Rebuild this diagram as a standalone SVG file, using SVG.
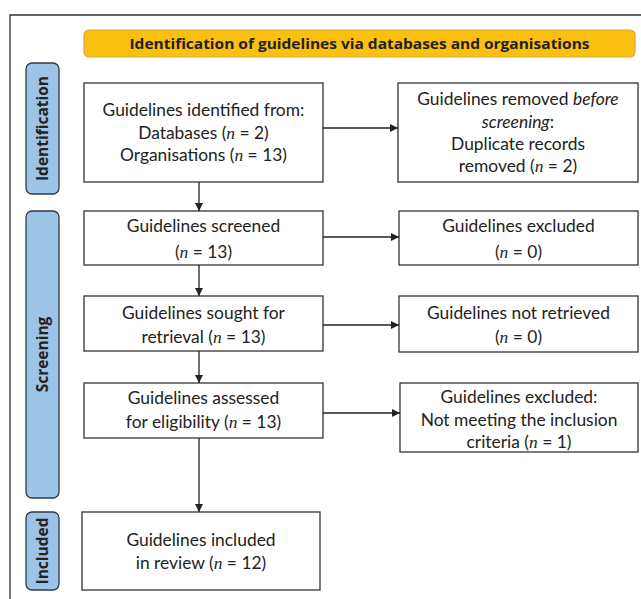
<svg xmlns="http://www.w3.org/2000/svg" width="641" height="599" viewBox="0 0 641 599">
<style>
.box{fill:#fff;stroke:#333;stroke-width:1.3}
.t{font-family:Lato,"Liberation Sans",Arial,sans-serif;font-size:17.4px;fill:#222;text-anchor:middle}
.i{font-family:"Liberation Serif",serif;font-style:italic}
.tab{fill:#9DC3E6;stroke:#2f3a48;stroke-width:1.3}
.tabt{font-family:"Open Sans","Liberation Sans",sans-serif;font-size:15.5px;font-weight:bold;fill:#222;text-anchor:middle}
.ln{stroke:#222;stroke-width:1.3;fill:none;marker-end:url(#ah)}
</style>
<defs>
<marker id="ah" viewBox="0 0 10 10" refX="10" refY="5" markerWidth="8" markerHeight="8" markerUnits="userSpaceOnUse" orient="auto">
<path d="M0,0 L10,5 L0,10 z" fill="#222"/>
</marker>
</defs>
<rect x="0" y="0" width="641" height="599" fill="#fff"/>
<path d="M10,599 V15 H641" fill="none" stroke="#333" stroke-width="1.3"/>
<g id="header">
<rect x="84" y="30" width="551" height="27" rx="5" fill="#FBBF10" stroke="#D6A93A" stroke-width="1.2"/>
<text x="359.5" y="48.5" style="font-family:'Open Sans','Liberation Sans',sans-serif;font-size:14px;font-weight:bold;fill:#222;text-anchor:middle" textLength="460" lengthAdjust="spacingAndGlyphs">Identification of guidelines via databases and organisations</text>
</g>
<g id="tab-identification">
<rect class="tab" x="26" y="63" width="33" height="131" rx="6"/>
<text class="tabt" transform="translate(48,128.5) rotate(-90)">Identification</text>
</g>
<g id="tab-screening">
<rect class="tab" x="26" y="211" width="33" height="287" rx="6"/>
<text class="tabt" transform="translate(48,354.5) rotate(-90)">Screening</text>
</g>
<g id="tab-included">
<rect class="tab" x="26" y="512" width="33" height="78" rx="6"/>
<text class="tabt" transform="translate(48,551) rotate(-90)">Included</text>
</g>
<g id="n1">
<rect class="box" x="84" y="83" width="239" height="99"/>
<text class="t" x="203.5" y="116">Guidelines identified from:</text>
<text class="t" x="203.5" y="139">Databases (<tspan class="i">n</tspan> = 2)</text>
<text class="t" x="203.5" y="161">Organisations (<tspan class="i">n</tspan> = 13)</text>
</g>
<g id="n2">
<rect class="box" x="398" y="83" width="240" height="99"/>
<text class="t" x="518" y="105">Guidelines removed <tspan font-style="italic">before</tspan></text>
<text class="t" x="518" y="128"><tspan font-style="italic">screening</tspan>:</text>
<text class="t" x="518" y="150">Duplicate records</text>
<text class="t" x="518" y="172">removed (<tspan class="i">n</tspan> = 2)</text>
</g>
<g id="n3">
<rect class="box" x="84" y="211" width="239" height="54"/>
<text class="t" x="203.5" y="232">Guidelines screened</text>
<text class="t" x="203.5" y="258">(<tspan class="i">n</tspan> = 13)</text>
</g>
<g id="n4">
<rect class="box" x="399" y="211" width="239" height="54"/>
<text class="t" x="518.5" y="232">Guidelines excluded</text>
<text class="t" x="518.5" y="258">(<tspan class="i">n</tspan> = 0)</text>
</g>
<g id="n5">
<rect class="box" x="84" y="296" width="239" height="55"/>
<text class="t" x="203.5" y="319">Guidelines sought for</text>
<text class="t" x="203.5" y="343">retrieval (<tspan class="i">n</tspan> = 13)</text>
</g>
<g id="n6">
<rect class="box" x="399" y="296" width="239" height="56"/>
<text class="t" x="518.5" y="319">Guidelines not retrieved</text>
<text class="t" x="518.5" y="343">(<tspan class="i">n</tspan> = 0)</text>
</g>
<g id="n7">
<rect class="box" x="84" y="383" width="239" height="55"/>
<text class="t" x="203.5" y="404">Guidelines assessed</text>
<text class="t" x="203.5" y="428">for eligibility (<tspan class="i">n</tspan> = 13)</text>
</g>
<g id="n8">
<rect class="box" x="400" y="383" width="238" height="69"/>
<text class="t" x="519" y="403">Guidelines excluded:</text>
<text class="t" x="519" y="426">Not meeting the inclusion</text>
<text class="t" x="519" y="448">criteria (<tspan class="i">n</tspan> = 1)</text>
</g>
<g id="n9">
<rect class="box" x="82" y="512" width="238" height="78"/>
<text class="t" x="201" y="546">Guidelines included</text>
<text class="t" x="201" y="569">in review (<tspan class="i">n</tspan> = 12)</text>
</g>
<g id="connectors">
<path class="ln" d="M323,128 H398"/>
<path class="ln" d="M199,182 V211"/>
<path class="ln" d="M323,237 H399"/>
<path class="ln" d="M199,265 V296"/>
<path class="ln" d="M323,325 H399"/>
<path class="ln" d="M199,351 V383"/>
<path class="ln" d="M323,413 H400"/>
<path class="ln" d="M199,438 V512"/>
</g>
</svg>
